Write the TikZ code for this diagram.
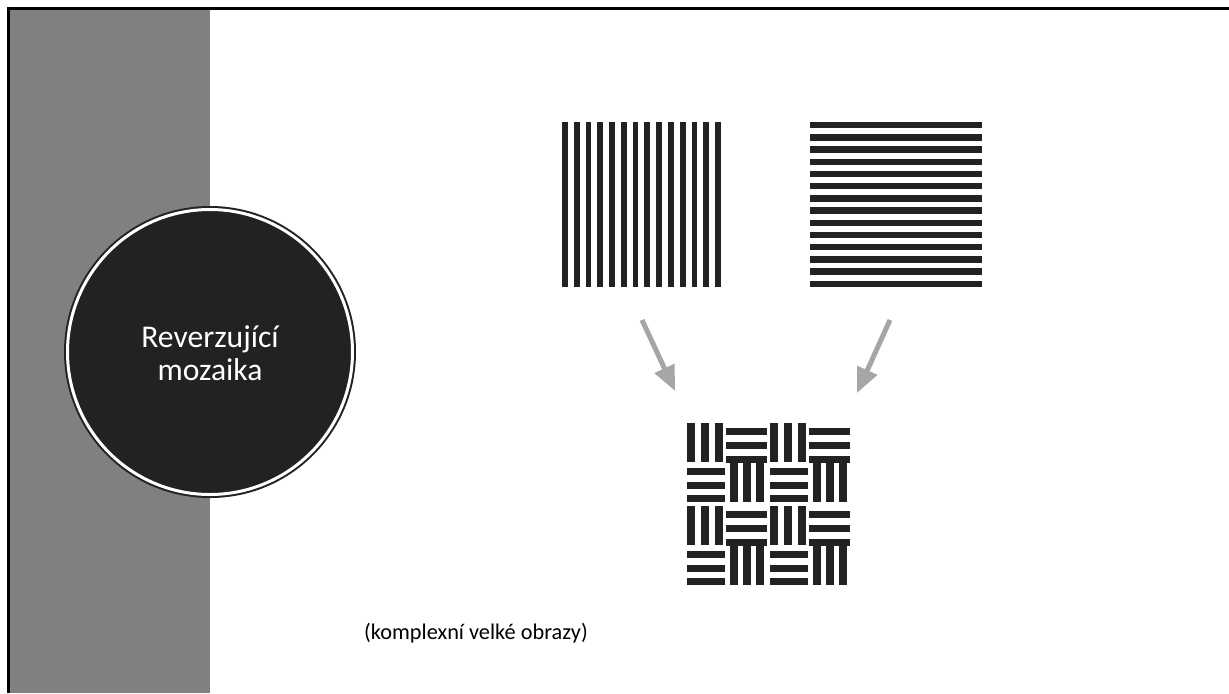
\documentclass[tikz,border=0pt]{standalone}
\usepackage{fontspec}
\setmainfont{Carlito}
\usepackage{tikz}
\usetikzlibrary{positioning}
\usetikzlibrary{arrows.meta}
\definecolor{darkdisc}{HTML}{222222}
\definecolor{arrowgray}{HTML}{A6A6A6}
\tikzset{bar/.style={fill=darkdisc}}
\tikzset{pointer/.style={arrowgray, line width=0.1cm, -{Triangle[width=0.42cm,length=0.5cm]}}}

\begin{document}
\begin{tikzpicture}[x=0.02cm,y=-0.02cm]
\useasboundingbox (0,0) rectangle (1229,693);
\fill[white] (0,0) rectangle (1229,693);
\fill[gray] (10,10) rectangle (210,693);
\draw[line width=0.07cm, black] (1229,8.5) -- (8.5,8.5) -- (8.5,693);
% circle with title
\fill[darkdisc] (210,352) circle (146);
\draw[white, line width=0.06cm] (210,352) circle (142.5);
\node (title) at (210,353) [text=white, align=center, font=\fontsize{18}{18.7}\selectfont] {Reverzující\\mozaika};
% vertical stripes
\foreach \i in {0,...,13} {
\fill[bar] (562+11.78*\i,122) rectangle ++(5.8,165);
}
% horizontal stripes
\foreach \i in {0,...,13} {
\fill[bar] (810,122+12.2*\i) rectangle ++(172,6.4);
}
% mosaic
\foreach \a in {0,1} {
\foreach \b in {0,1} {
\begin{scope}[shift={(687+83*\a,423+83*\b)}]
\foreach \k in {0,1,2} {
\fill[bar] (14*\k,0) rectangle ++(8,39);
\fill[bar] (39,5+14*\k) rectangle ++(41,7);
\fill[bar] (0,45+13.5*\k) rectangle ++(38,7);
\fill[bar] (43+12.8*\k,40) rectangle ++(8,39);
}
\end{scope}
}
}
\coordinate (vtail) at (642,320);
\coordinate (vhead) at (675,391);
\coordinate (htail) at (890,320);
\coordinate (hhead) at (857,393);
\draw[pointer] (vtail) -- (vhead);
\draw[pointer] (htail) -- (hhead);
\node (caption) at (476,633) [font=\fontsize{12.7}{15}\selectfont] {(komplexní velké obrazy)};
\end{tikzpicture}
\end{document}
